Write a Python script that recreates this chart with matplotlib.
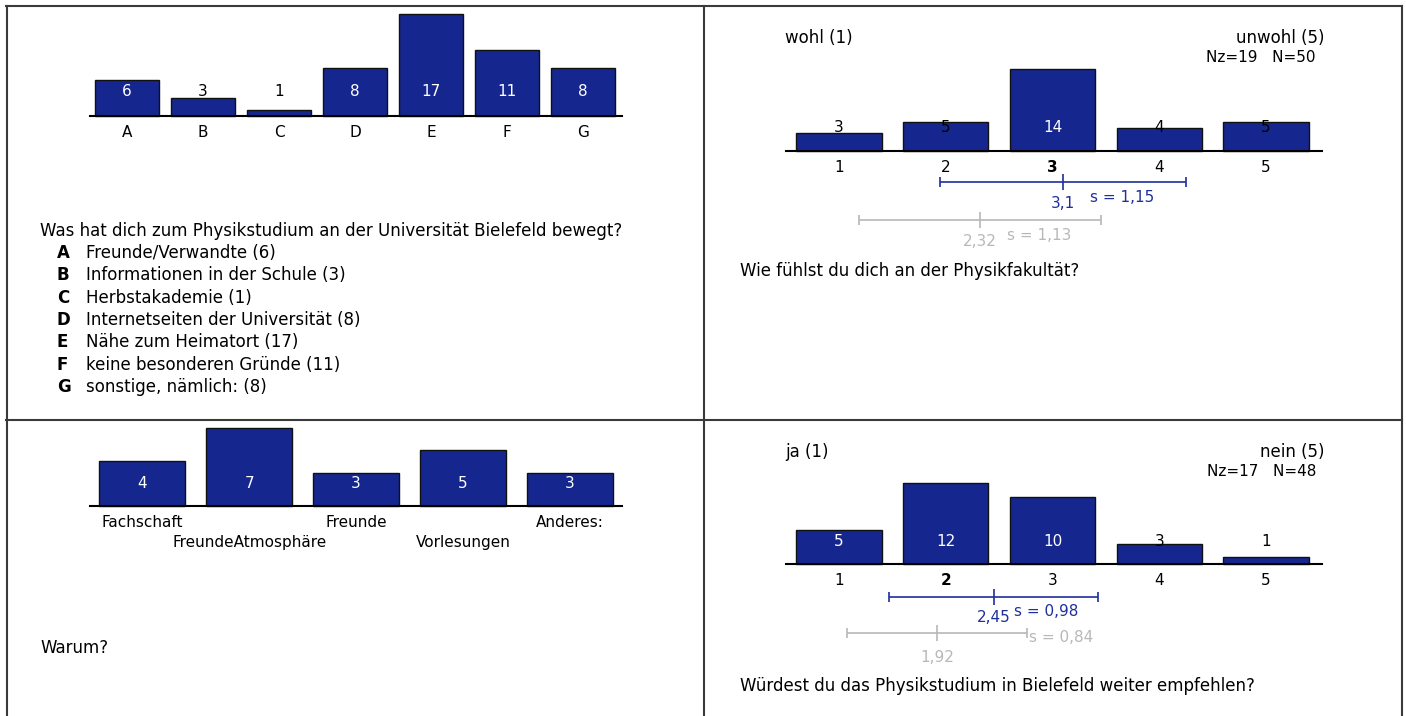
import numpy as np
from matplotlib import pyplot as plt
from matplotlib.lines import Line2D

plt.rcParams['font.family'] = ['DejaVu Sans']

# survey data
q1_cats = ['A', 'B', 'C', 'D', 'E', 'F', 'G']
q1_vals = [6, 3, 1, 8, 17, 11, 8]
q1_items = ['Freunde/Verwandte (6)', 'Informationen in der Schule (3)', 'Herbstakademie (1)',
            'Internetseiten der Universität (8)', 'Nähe zum Heimatort (17)',
            'keine besonderen Gründe (11)', 'sonstige, nämlich: (8)']

q2_vals = [3, 5, 14, 4, 5]
q2_mean, q2_std = 3.1, 1.15
q2_ref_mean, q2_ref_std = 2.32, 1.13

q3_cats = ['Fachschaft', 'FreundeAtmosphäre', 'Freunde', 'Vorlesungen', 'Anderes:']
q3_vals = [4, 7, 3, 5, 3]

q4_vals = [5, 12, 10, 3, 1]
q4_mean, q4_std = 2.45, 0.98
q4_ref_mean, q4_ref_std = 1.92, 0.84

scale_ticks = ['1', '2', '3', '4', '5']

W, H = 1406, 716
BLUE = '#15278f'
LBLUE = '#1f2f9c'
GRAY = '#b8b8b8'
FS = 12    # question / header text
FSS = 11   # ticks and values
PAD = 6.5

fig = plt.figure(figsize=(W/100, H/100), dpi=100)

def pax(x0, x1, y0, y1):
  return fig.add_axes([x0/W, 1-y1/H, (x1-x0)/W, (y1-y0)/H])

def ftext(x, y, s, **kw):
  kw.setdefault('va', 'center')
  fig.text(x/W, 1-y/H, s, **kw)

def pline(xs, ys):
  fig.add_artist(Line2D([x/W for x in xs], [1-y/H for y in ys], color='#3a3a3a', lw=1.5))

def bars(ax, pos, vals, ticklabels, width, yb, ytop, ybot, scale, laby, xlim, bold=None, stagger=False):
  ax.set_xlim(*xlim)
  ax.set_ylim(-(ybot-yb)/scale, (yb-ytop)/scale)
  ax.bar(pos, vals, width=width, color=BLUE, edgecolor='#111111', linewidth=1, zorder=2)
  for s in ['top', 'right', 'left']:
    ax.spines[s].set_visible(False)
  ax.spines['bottom'].set_position(('data', 0))
  ax.spines['bottom'].set_linewidth(1.5)
  ax.spines['bottom'].set_zorder(3)
  ax.set_yticks([])
  ax.set_xticks(pos)
  ax.set_xticklabels(ticklabels, fontsize=FSS)
  ax.tick_params(axis='x', direction='in', length=4, width=0.8, pad=PAD, color='#222222')
  if stagger:  # every second label one row lower
    for i, tk in enumerate(ax.xaxis.get_major_ticks()):
      if i % 2 == 1:
        tk.set_pad(PAD + 14.4)
  for t in ax.get_xticklabels():
    t.set_zorder(4)
  if bold is not None:
    ax.get_xticklabels()[bold].set_fontweight('bold')
  ly = (yb-laby)/scale
  for p, v in zip(pos, vals):
    c = 'white' if v*scale > (yb-laby)+8 else 'black'
    ax.text(p, ly, str(v), ha='center', va='center', fontsize=FSS, color=c, zorder=5)
  return ax

def meanbar(ax, m, s, y, color, mlab, mly, slab, slx, sly):
  ax.errorbar([m], [y], xerr=[s], color=color, lw=1.2, capsize=3.5, capthick=1.2, zorder=2)
  ax.plot([m], [y], marker='|', markersize=12, mew=1.2, color=color)
  ax.text(m, mly, mlab, ha='center', va='center', fontsize=FSS, color=color)
  ax.text(slx, sly, slab, ha='left', va='center', fontsize=FSS, color=color)

# panel 1
ax1 = pax(90, 622, 5, 140)
bars(ax1, np.arange(7), q1_vals, q1_cats, 0.83, 116, 5, 140, 6.0, 92, (-0.487, 6.513))
ftext(40, 231, 'Was hat dich zum Physikstudium an der Universität Bielefeld bewegt?', fontsize=FS)
for i, (c, t) in enumerate(zip(q1_cats, q1_items)):
  ftext(57, 253 + 22.3*i, c, fontsize=FS, fontweight='bold')
  ftext(86, 253 + 22.3*i, t, fontsize=FS)

# panel 2
s2 = 82/14
ax2 = pax(786, 1322, 60, 260)
pos5 = np.arange(1, 6)
xl5 = (1 - 53/107, 5 + 56/107)
bars(ax2, pos5, q2_vals, scale_ticks, 0.80, 151, 60, 260, s2, 127, xl5, bold=2)
def y2(p): return (151-p)/s2
meanbar(ax2, q2_mean, q2_std, y2(182), LBLUE, '3,1', y2(204), 's = 1,15', q2_mean+0.25, y2(197))
meanbar(ax2, q2_ref_mean, q2_ref_std, y2(220), GRAY, '2,32', y2(242), 's = 1,13', q2_ref_mean+0.25, y2(235))
ftext(785, 38, 'wohl (1)', fontsize=FS)
ftext(1324, 38, 'unwohl (5)', fontsize=FS, ha='right')
ftext(1316, 57, 'Nz=19   N=50', fontsize=FSS, ha='right')
ftext(740, 271, 'Wie fühlst du dich an der Physikfakultät?', fontsize=FS)

# panel 3
s3 = 78/7
ax3 = pax(90, 622, 425, 560)
bars(ax3, np.arange(5), q3_vals, q3_cats, 0.80, 506, 425, 560, s3, 483, (-0.488, 4.486), stagger=True)
ftext(40, 648, 'Warum?', fontsize=FS)

# panel 4
s4 = 81/12
ax4 = pax(786, 1322, 470, 670)
bars(ax4, pos5, q4_vals, scale_ticks, 0.80, 564, 470, 670, s4, 541, xl5, bold=1)
def y4(p): return (564-p)/s4
meanbar(ax4, q4_mean, q4_std, y4(597), LBLUE, '2,45', y4(618), 's = 0,98', q4_mean+0.19, y4(611))
meanbar(ax4, q4_ref_mean, q4_ref_std, y4(633), GRAY, '1,92', y4(657), 's = 0,84', q4_ref_mean+0.86, y4(637))
ftext(785, 452, 'ja (1)', fontsize=FS)
ftext(1324, 452, 'nein (5)', fontsize=FS, ha='right')
ftext(1316, 471, 'Nz=17   N=48', fontsize=FSS, ha='right')
ftext(740, 686, 'Würdest du das Physikstudium in Bielefeld weiter empfehlen?', fontsize=FS)

# frame
pline([6, 1402], [6, 6])
pline([6.5, 6.5], [6, 716])
pline([1402, 1402], [6, 716])
pline([704, 704], [6, 716])
pline([6, 1402], [420, 420])

fig.savefig('out.png', dpi=100)
